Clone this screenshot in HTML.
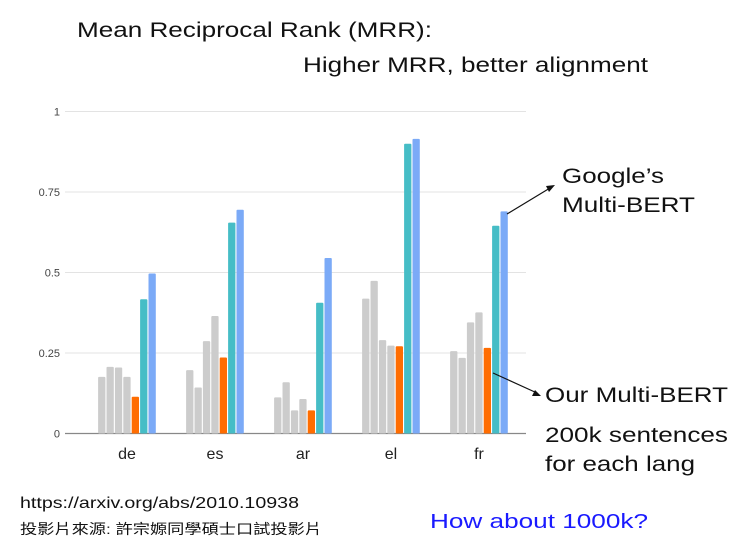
<!DOCTYPE html>
<html><head><meta charset="utf-8"><style>
body{margin:0;background:#fff;width:742px;height:545px;overflow:hidden;font-family:"Liberation Sans","Noto Sans CJK TC",sans-serif}
svg{position:absolute;left:0;top:0}
</style></head><body>
<svg width="742" height="545">
<text x="77" y="37" font-size="21" fill="#111" textLength="355" lengthAdjust="spacingAndGlyphs">Mean Reciprocal Rank (MRR):</text>
<text x="303" y="72" font-size="21" fill="#111" textLength="345" lengthAdjust="spacingAndGlyphs">Higher MRR, better alignment</text>
<g id="grid"></g><g id="bars"></g><g id="labels"></g>
<text x="562" y="183" font-size="21" fill="#111" textLength="102" lengthAdjust="spacingAndGlyphs">Google’s</text>
<text x="562" y="212" font-size="21" fill="#111" textLength="133" lengthAdjust="spacingAndGlyphs">Multi-BERT</text>
<line x1="507" y1="214" x2="550" y2="188" stroke="#111" stroke-width="1.2"/>
<polygon points="555,185 546,186 549,192" fill="#111"/>
<line x1="493" y1="373" x2="537" y2="393" stroke="#111" stroke-width="1.2"/>
<polygon points="541,396 532,396 535,390" fill="#111"/>
<text x="545" y="402" font-size="21" fill="#111" textLength="183" lengthAdjust="spacingAndGlyphs">Our Multi-BERT</text>
<text x="545" y="442" font-size="21" fill="#111" textLength="183" lengthAdjust="spacingAndGlyphs">200k sentences</text>
<text x="545" y="471" font-size="21" fill="#111" textLength="150" lengthAdjust="spacingAndGlyphs">for each lang</text>
<text x="20" y="508" font-size="16" fill="#111" textLength="279" lengthAdjust="spacingAndGlyphs">https://arxiv.org/abs/2010.10938</text>
<text x="20" y="534" font-size="14" fill="#111" textLength="302" lengthAdjust="spacingAndGlyphs">投影片來源: 許宗嫄同學碩士口試投影片</text>
<text x="430" y="528" font-size="20" fill="#1a1aff" textLength="218" lengthAdjust="spacingAndGlyphs">How about 1000k?</text>
</svg>
<script>
const categories=["de","es","ar","el","fr"];
const gray1=[0.176,0.197,0.112,0.419,0.256];
const gray2=[0.207,0.143,0.159,0.474,0.235];
const gray3=[0.205,0.287,0.072,0.290,0.345];
const gray4=[0.176,0.365,0.107,0.273,0.376];
const ourBert=[0.114,0.236,0.072,0.271,0.266];
const teal=[0.417,0.655,0.406,0.900,0.645];
const googleBert=[0.497,0.695,0.545,0.915,0.690];
const ticks=[0,0.25,0.5,0.75,1];
const tickLabels=["0","0.25","0.5","0.75","1"];
const series=[gray1,gray2,gray3,gray4,ourBert,teal,googleBert];
const colors=["#cccccc","#cccccc","#cccccc","#cccccc","#ff6d01","#46bdc6","#7baaf7"];
const NS="http://www.w3.org/2000/svg";
const y0=433.5,ppu=322,left=83,band=88;
const y=v=>y0-v*ppu;
const xc=i=>left+band*(i+0.5);
function mk(t,a,p){const e=document.createElementNS(NS,t);for(const k in a)e.setAttribute(k,a[k]);p.appendChild(e);return e;}
const G=document.getElementById('grid'),B=document.getElementById('bars'),L=document.getElementById('labels');
ticks.forEach((t,i)=>{
 const ln=mk('line',{x1:65,x2:526,y1:y(t),y2:y(t),stroke:i==0?'#888':'#e3e3e3','stroke-width':i==0?1.2:1},G);
 
 
 const tx=mk('text',{x:60,y:y(t)+4,'font-size':11,fill:'#444','text-anchor':'end'},L);
 tx.textContent=tickLabels[i];
 
 
});
const bw=7.3,step=8.4;
categories.forEach((c,i)=>{
 series.forEach((s,j)=>{
  const x=xc(i)-3.5*step+j*step+0.5;
  const r=mk('rect',{x:x,y:y(s[i]),width:bw,height:y0-y(s[i]),fill:colors[j],rx:1},B);
  
  
 });
 const tx=mk('text',{x:xc(i),y:459,'font-size':16,fill:'#222','text-anchor':'middle'},L);
 tx.textContent=c;
 
 
});
</script>
</body></html>
